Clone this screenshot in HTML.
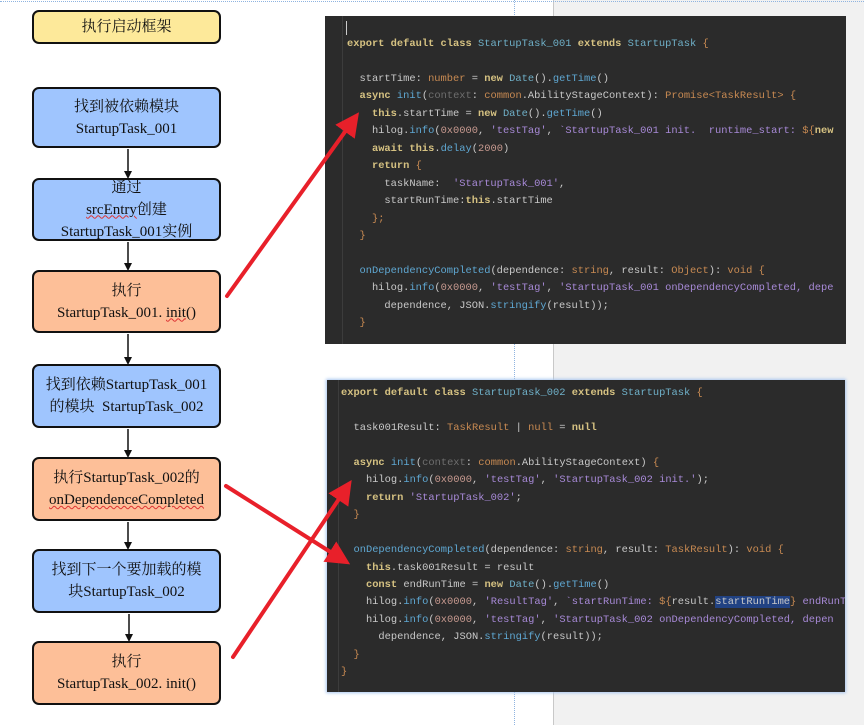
<!DOCTYPE html>
<html><head><meta charset="utf-8">
<style>
*{margin:0;padding:0;box-sizing:border-box}
body{width:864px;height:725px;background:#fff;position:relative;overflow:hidden;font-family:"Liberation Serif","Noto Serif CJK SC",serif}
.bg{position:absolute;left:553px;top:0;width:311px;height:725px;background:#f1f1f1;border-left:1px solid #c8c8c8}
.vl{position:absolute;left:514px;top:0;height:725px;border-left:1px dotted #8fb4e0}
.tl{position:absolute;left:0;top:1px;width:864px;border-top:1px dotted #8fb4e0}
.box{position:absolute;left:32px;width:189px;border:2px solid #111;border-radius:7px;display:flex;flex-direction:column;justify-content:center;align-items:center;text-align:center;font-size:15px;line-height:22px;color:#111}
.y{background:#fde99a}.b{background:#9fc5fe}.o{background:#fdbf98}
.wv{text-decoration:underline wavy #d33;text-decoration-thickness:1px}
.panel{position:absolute;background:#2b2b2b;overflow:hidden}
pre{position:absolute;font-family:"Liberation Mono",monospace;font-size:10.4px;line-height:17.45px;color:#c9c9c9;white-space:pre}
.k{color:#d6c282;font-weight:bold}.c{color:#6fb0c8}.t{color:#c88a52}.s{color:#a88ad8}.n{color:#c89a90}.f{color:#5fa8d3}.g{color:#6e6e6e}
.gut{position:absolute;top:0;bottom:0;border-left:1px solid #3c3c3c}
</style></head><body>
<div class="bg"></div><div class="vl"></div><div class="tl"></div>

<div class="box y" style="top:10px;height:34px">执行启动框架</div>
<div class="box b" style="top:87px;height:61px">找到被依赖模块<br>StartupTask_001</div>
<div class="box b" style="top:178px;height:63px">通过<span><span class="wv">srcEntry</span>创建</span>StartupTask_001实例</div>
<div class="box o" style="top:270px;height:63px">执行<br><span>StartupTask_001. <span class="wv">init</span>()</span></div>
<div class="box b" style="top:364px;height:64px">找到依赖StartupTask_001<br>的模块&nbsp; StartupTask_002</div>
<div class="box o" style="top:457px;height:64px">执行StartupTask_002的<br><span class="wv">onDependenceCompleted</span></div>
<div class="box b" style="top:549px;height:64px">找到下一个要加载的模<br>块StartupTask_002</div>
<div class="box o" style="top:641px;height:64px">执行<br>StartupTask_002. init()</div>

<div class="panel" style="left:325px;top:16px;width:521px;height:328px">
<div class="gut" style="left:17px"></div>
<div style="position:absolute;left:21px;top:5px;width:1px;height:14px;background:#ccc"></div>
<pre style="left:22px;top:20px"><span class="k">export default class</span> <span class="c">StartupTask_001</span> <span class="k">extends</span> <span class="c">StartupTask</span> <span class="t">{</span>

  startTime: <span class="t">number</span> = <span class="k">new</span> <span class="c">Date</span>().<span class="f">getTime</span>()
  <span class="k">async</span> <span class="f">init</span>(<span class="g">context</span>: <span class="t">common</span>.AbilityStageContext): <span class="t">Promise&lt;TaskResult&gt;</span> <span class="t">{</span>
    <span class="k">this</span>.startTime = <span class="k">new</span> <span class="c">Date</span>().<span class="f">getTime</span>()
    hilog.<span class="f">info</span>(<span class="n">0x0000</span>, <span class="s">'testTag'</span>, <span class="s">`StartupTask_001 init.  runtime_start: </span><span class="t">${</span><span class="k">new</span>
    <span class="k">await this</span>.<span class="f">delay</span>(<span class="n">2000</span>)
    <span class="k">return</span> <span class="t">{</span>
      taskName:  <span class="s">'StartupTask_001'</span>,
      startRunTime:<span class="k">this</span>.startTime
    <span class="t">};</span>
  <span class="t">}</span>

  <span class="f">onDependencyCompleted</span>(dependence: <span class="t">string</span>, result: <span class="t">Object</span>): <span class="t">void</span> <span class="t">{</span>
    hilog.<span class="f">info</span>(<span class="n">0x0000</span>, <span class="s">'testTag'</span>, <span class="s">'StartupTask_001 onDependencyCompleted, depe</span>
      dependence, JSON.<span class="f">stringify</span>(result));
  <span class="t">}</span></pre>
</div>

<div class="panel" style="left:327px;top:380px;width:518px;height:312px;box-shadow:0 0 3px 1px #a9c6f0">
<div class="gut" style="left:11px"></div>
<pre style="left:14px;top:5px"><span class="k">export default class</span> <span class="c">StartupTask_002</span> <span class="k">extends</span> <span class="c">StartupTask</span> <span class="t">{</span>

  task001Result: <span class="t">TaskResult</span> | <span class="t">null</span> = <span class="k">null</span>

  <span class="k">async</span> <span class="f">init</span>(<span class="g">context</span>: <span class="t">common</span>.AbilityStageContext) <span class="t">{</span>
    hilog.<span class="f">info</span>(<span class="n">0x0000</span>, <span class="s">'testTag'</span>, <span class="s">'StartupTask_002 init.'</span>);
    <span class="k">return</span> <span class="s">'StartupTask_002'</span>;
  <span class="t">}</span>

  <span class="f">onDependencyCompleted</span>(dependence: <span class="t">string</span>, result: <span class="t">TaskResult</span>): <span class="t">void</span> <span class="t">{</span>
    <span class="k">this</span>.task001Result = result
    <span class="k">const</span> endRunTime = <span class="k">new</span> <span class="c">Date</span>().<span class="f">getTime</span>()
    hilog.<span class="f">info</span>(<span class="n">0x0000</span>, <span class="s">'ResultTag'</span>, <span class="s">`startRunTime: </span><span class="t">${</span>result.<span style="background:#214283">startRunTime</span><span class="t">}</span><span class="s"> endRunTime</span>
    hilog.<span class="f">info</span>(<span class="n">0x0000</span>, <span class="s">'testTag'</span>, <span class="s">'StartupTask_002 onDependencyCompleted, depen</span>
      dependence, JSON.<span class="f">stringify</span>(result));
  <span class="t">}</span>
<span class="t">}</span></pre>
</div>

<svg width="864" height="725" style="position:absolute;left:0;top:0" xmlns="http://www.w3.org/2000/svg">
<defs><marker id="ah" markerWidth="8" markerHeight="8" refX="5" refY="4" orient="auto" markerUnits="userSpaceOnUse"><path d="M0,0 L8,4 L0,8 z" fill="#111"/></marker>
<marker id="ra" markerWidth="6" markerHeight="6" refX="3" refY="3" orient="auto"><path d="M0,0 L6,3 L0,6 z" fill="#e8202a"/></marker></defs>
<g stroke="#111" stroke-width="1.5" marker-end="url(#ah)">
<line x1="128" y1="149" x2="128" y2="176"/>
<line x1="128" y1="242" x2="128" y2="268"/>
<line x1="128" y1="334" x2="128" y2="362"/>
<line x1="128" y1="429" x2="128" y2="455"/>
<line x1="128" y1="522" x2="128" y2="547"/>
<line x1="129" y1="614" x2="129" y2="639"/>
</g>
<g stroke="#e8202a" stroke-width="4" stroke-linecap="round" marker-end="url(#ra)">
<line x1="227" y1="296" x2="352" y2="122"/>
<line x1="226" y1="486" x2="340" y2="558"/>
<line x1="233" y1="657" x2="345" y2="490"/>
</g>
</svg>
</body></html>
